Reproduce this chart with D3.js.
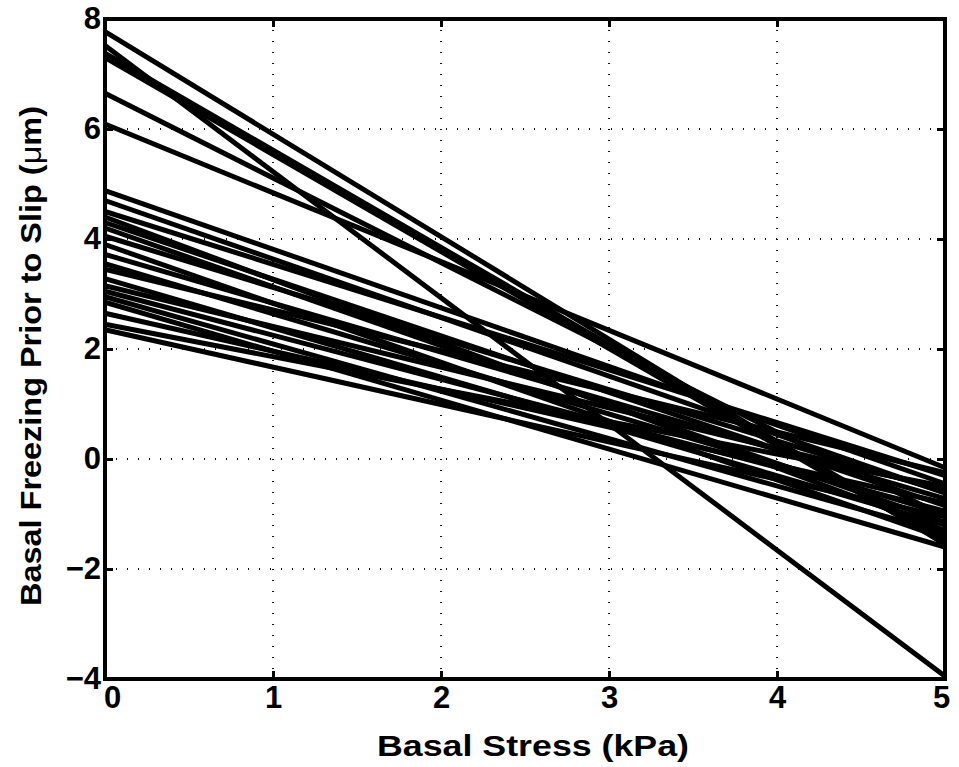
<!DOCTYPE html>
<html>
<head>
<meta charset="utf-8">
<script src="https://cdn.jsdelivr.net/npm/d3@7"></script>
<style>
  body { margin: 0; background: #fff; }
  text { font-family: "Liberation Sans", Arial, Helvetica, sans-serif; font-weight: bold; fill: #000; }
</style>
</head>
<body>
<svg id="chart" width="959" height="767"></svg>
<script>
// Basal stress range of each fitted line (kPa)
const stressRange = [0, 5];
// Fitted basal freezing (µm) at zero stress, one entry per sample
const freezeAtZero = [
  7.77, 7.52, 7.38, 7.30, 6.65, 6.09,
  4.88, 4.70, 4.50, 4.40, 4.30, 4.20, 4.05, 3.90, 3.72, 3.55,
  3.45, 3.28, 3.15, 3.05, 2.95, 2.85, 2.65, 2.45, 2.35
];
// Fitted basal freezing (µm) at 5 kPa, same order
const freezeAtFive = [
  -1.55, -3.95, -1.45, -1.52, -1.05, -0.16,
  -0.45, -0.62, -0.30, -1.30, -0.85, -1.15, -0.60, -1.45, -0.72, -1.00,
  -0.25, -1.20, -0.55, -0.95, -1.35, -1.60, -0.80, -0.50, -1.05
];
const xTicks = [0, 1, 2, 3, 4, 5];
const yTicks = [-4, -2, 0, 2, 4, 6, 8];
const xTitle = "Basal Stress (kPa)";
const yTitle = ["Basal Freezing Prior to Slip (", "\u03bc", "m)"];

const svg = d3.select("#chart");
const m = { left: 105, right: 945, top: 19, bottom: 679 };

const x = d3.scaleLinear().domain([0, 5]).range([m.left, m.right]);
const y = d3.scaleLinear().domain([-4, 8]).range([m.bottom, m.top]);

// dotted grid
const grid = svg.append("g");
grid.selectAll(".gx").data(xTicks.slice(1, -1)).join("line")
  .attr("x1", d => x(d)).attr("x2", d => x(d))
  .attr("y1", m.top).attr("y2", m.bottom)
  .attr("stroke", "#111").attr("stroke-width", 2).attr("stroke-dasharray", "1,10");
grid.selectAll(".gy").data(yTicks.slice(1, -1)).join("line")
  .attr("y1", d => y(d)).attr("y2", d => y(d))
  .attr("x1", m.left).attr("x2", m.right)
  .attr("stroke", "#111").attr("stroke-width", 2).attr("stroke-dasharray", "1,10");

// fitted lines
const lines = freezeAtZero.map((v, i) => [[stressRange[0], v], [stressRange[1], freezeAtFive[i]]]);
const lineGen = d3.line().x(d => x(d[0])).y(d => y(d[1]));
svg.append("g").selectAll("path").data(lines).join("path")
  .attr("d", lineGen)
  .attr("fill", "none").attr("stroke", "#000").attr("stroke-width", 5)
  .attr("stroke-linecap", "butt");

// axes with inward ticks on all four sides
const tickLen = 8;
const axB = svg.append("g").attr("transform", `translate(0,${m.bottom})`)
  .call(d3.axisBottom(x).tickValues(xTicks).tickSize(-tickLen).tickPadding(7).tickFormat(d3.format("d")));
const axL = svg.append("g").attr("transform", `translate(${m.left},0)`)
  .call(d3.axisLeft(y).tickValues(yTicks).tickSize(-tickLen).tickPadding(4)
    .tickFormat(d => d < 0 ? "\u2212" + Math.abs(d) : d));
const axT = svg.append("g").attr("transform", `translate(0,${m.top})`)
  .call(d3.axisTop(x).tickValues(xTicks).tickSize(-tickLen).tickFormat(""));
const axR = svg.append("g").attr("transform", `translate(${m.right},0)`)
  .call(d3.axisRight(y).tickValues(yTicks).tickSize(-tickLen).tickFormat(""));

[axB, axL, axT, axR].forEach(g => {
  g.select(".domain").remove();
  g.selectAll(".tick line").attr("stroke", "#000").attr("stroke-width", 3);
  g.selectAll("text").attr("font-size", 31).attr("font-weight", "bold")
    .attr("font-family", "'Liberation Sans', Arial, sans-serif").attr("fill", "#000");
});
axB.selectAll("text").attr("dy", "0.71em");
// end labels sit slightly inside the frame corners
axB.selectAll(".tick text").attr("dx", d => d === 0 ? 7 : d === 5 ? -4 : 0);

// frame
svg.append("rect").attr("x", m.left).attr("y", m.top)
  .attr("width", m.right - m.left).attr("height", m.bottom - m.top)
  .attr("fill", "none").attr("stroke", "#000").attr("stroke-width", 4);

// axis titles
svg.append("text").attr("x", 533).attr("y", 756)
  .attr("text-anchor", "middle").attr("font-size", 30)
  .attr("textLength", 312).attr("lengthAdjust", "spacingAndGlyphs")
  .text(xTitle);
const yt = svg.append("text").attr("transform", `translate(41,356) rotate(-90)`)
  .attr("text-anchor", "middle").attr("font-size", 30)
  .attr("textLength", 500).attr("lengthAdjust", "spacingAndGlyphs");
yt.append("tspan").text(yTitle[0]);
yt.append("tspan").attr("font-weight", "normal").text(yTitle[1]);
yt.append("tspan").text(yTitle[2]);
</script>
</body>
</html>
